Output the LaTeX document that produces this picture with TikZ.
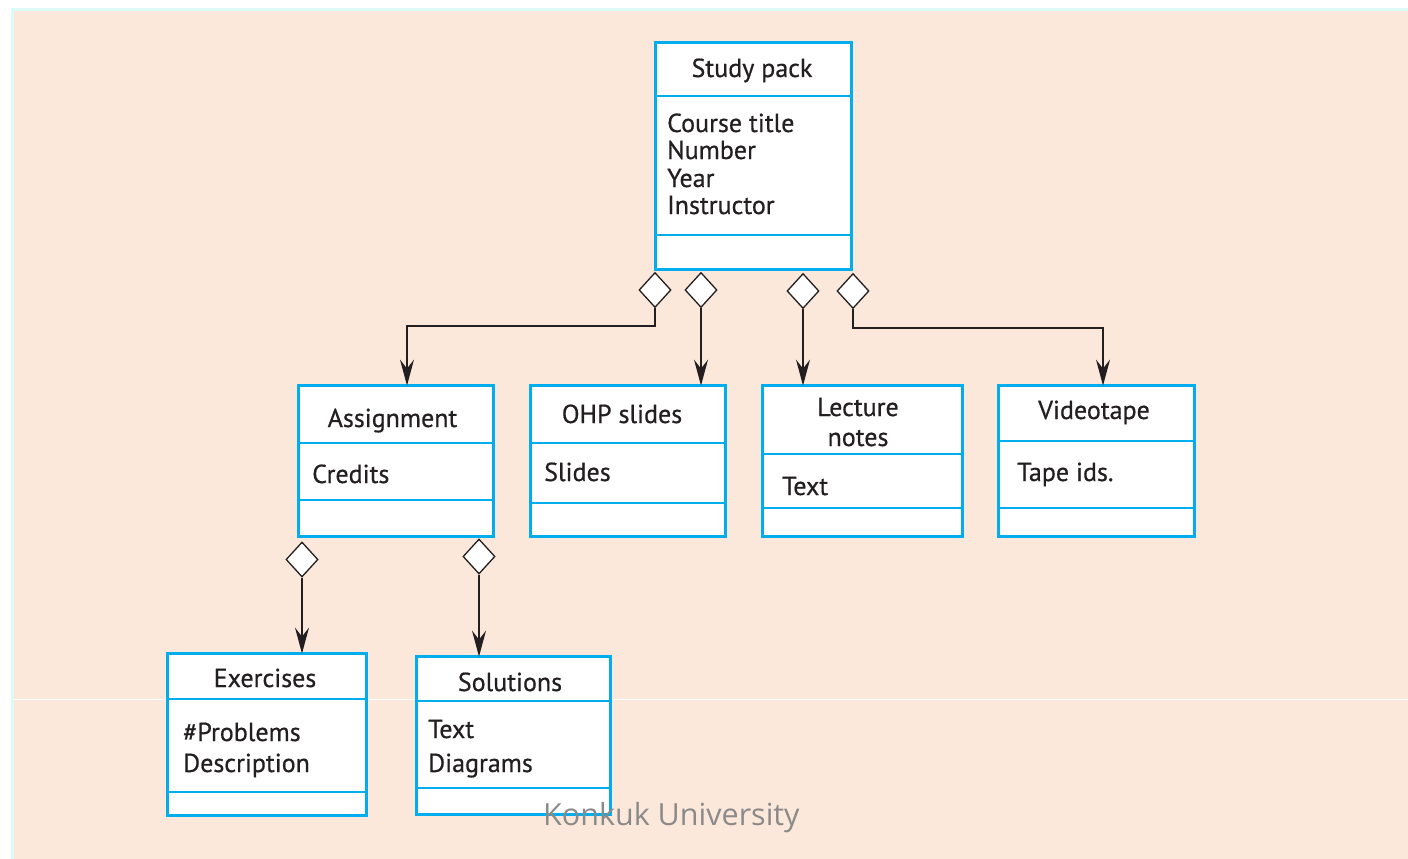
\documentclass[tikz,border=0pt]{standalone}
\usepackage{fontspec}
\setmainfont{PT Sans}[FakeBold=0.6]
\newfontfamily\markfont{Open Sans}
\usetikzlibrary{arrows.meta,shapes.geometric}
\definecolor{umlblue}{HTML}{00AEEF}
\definecolor{ink}{HTML}{231F20}
\definecolor{peach}{HTML}{FCE8DA}
\definecolor{framecyan}{HTML}{DDFAFA}
\definecolor{markgray}{HTML}{8A8A8A}

\begin{document}
\begin{tikzpicture}[x=1pt,y=-1pt,
  clsbox/.style={draw=umlblue,line width=3.2pt,fill=white,inner sep=0pt,outer sep=0pt,anchor=north west},
  sepline/.style={draw=umlblue,line width=1.8pt},
  agg/.style={diamond,draw=ink,fill=white,line width=1.3pt,inner sep=0pt,minimum width=32pt,minimum height=35pt},
  conn/.style={draw=ink,line width=1.6pt,-{Stealth[length=26pt,width=14pt,inset=9pt]}},
  title/.style={anchor=base,text=ink,font=\fontsize{26}{27.4}\selectfont,inner sep=0pt},
  attr/.style={anchor=base west,text=ink,font=\fontsize{26}{27.4}\selectfont,inner sep=0pt}]

% page, frame and background
\useasboundingbox (0,0) rectangle (1408,859);
\fill[white] (0,0) rectangle (1408,859);
\fill[framecyan] (11,8) rectangle (1408,859);
\fill[peach] (13.5,11) rectangle (1408,859);
\draw[white,line width=1pt] (13.5,699) -- (1408,699);

% ---- class boxes ----
\node[clsbox,minimum width=195.8pt,minimum height=226.8pt] (sp) at (655.6,42.6) {};
\draw[sepline] (sp.west |- 0,96) -- (sp.east |- 0,96);
\draw[sepline] (sp.west |- 0,235) -- (sp.east |- 0,235);
\node[title] (spT) at (752,77) {Study pack};
\node[attr] (spA1) at (667,132) {Course title};
\node[attr] (spA2) at (667,159) {Number};
\node[attr] (spA3) at (667,187) {Year};
\node[attr] (spA4) at (667,214) {Instructor};

\node[clsbox,minimum width=194.8pt,minimum height=150.8pt] (asg) at (298.6,385.6) {};
\draw[sepline] (asg.west |- 0,443) -- (asg.east |- 0,443);
\draw[sepline] (asg.west |- 0,500) -- (asg.east |- 0,500);
\node[title] (asgT) at (392.5,427) {Assignment};
\node[attr] (asgA1) at (312,483) {Credits};

\node[clsbox,minimum width=194.8pt,minimum height=150.8pt] (ohp) at (530.6,385.6) {};
\draw[sepline] (ohp.west |- 0,443) -- (ohp.east |- 0,443);
\draw[sepline] (ohp.west |- 0,503) -- (ohp.east |- 0,503);
\node[title] (ohpT) at (622,423) {OHP slides};
\node[attr] (ohpA1) at (544,481) {Slides};

\node[clsbox,minimum width=199.8pt,minimum height=150.8pt] (lec) at (762.6,385.6) {};
\draw[sepline] (lec.west |- 0,454) -- (lec.east |- 0,454);
\draw[sepline] (lec.west |- 0,508) -- (lec.east |- 0,508);
\node[title] (lecT1) at (858,416) {Lecture};
\node[title] (lecT2) at (858,446) {notes};
\node[attr] (lecA1) at (782,495) {Text};

\node[clsbox,minimum width=195.8pt,minimum height=150.8pt] (vid) at (998.6,385.6) {};
\draw[sepline] (vid.west |- 0,441) -- (vid.east |- 0,441);
\draw[sepline] (vid.west |- 0,508) -- (vid.east |- 0,508);
\node[title] (vidT) at (1094,419) {Videotape};
\node[attr] (vidA1) at (1017,481) {Tape ids.};

\node[clsbox,minimum width=198.8pt,minimum height=161.8pt] (exe) at (167.6,653.6) {};
\draw[sepline] (exe.west |- 0,699) -- (exe.east |- 0,699);
\draw[sepline] (exe.west |- 0,792) -- (exe.east |- 0,792);
\node[title] (exeT) at (265,687) {Exercises};
\node[attr] (exeA1) at (183,741) {\#Problems};
\node[attr] (exeA2) at (183,772) {Description};

\node[clsbox,minimum width=193.8pt,minimum height=157.8pt] (sol) at (416.6,656.6) {};
\draw[sepline] (sol.west |- 0,701) -- (sol.east |- 0,701);
\draw[sepline] (sol.west |- 0,788) -- (sol.east |- 0,788);
\node[title] (solT) at (510,691) {Solutions};
\node[attr] (solA1) at (428,738) {Text};
\node[attr] (solA2) at (428,772) {Diagrams};

% ---- aggregation diamonds ----
\node[agg] (d1) at (655,290) {};
\node[agg] (d2) at (701,290) {};
\node[agg] (d3) at (803,291) {};
\node[agg] (d4) at (853,291) {};
\node[agg] (d5) at (302,559.5) {};
\node[agg] (d6) at (479,556.5) {};

% ---- connectors ----
\coordinate (k1) at (655,326);
\coordinate (t1) at (407,0);
\draw[conn] (d1.south) -- (k1) -| (t1 |- asg.north);
\draw[conn] (d2.south) -- (d2.south |- ohp.north);
\draw[conn] (d3.south) -- (d3.south |- lec.north);
\coordinate (k4) at (853,328);
\coordinate (t4) at (1103,0);
\draw[conn] (d4.south) -- (k4) -| (t4 |- vid.north);
\draw[conn] (d5.south) -- (d5.south |- exe.north);
\draw[conn] (d6.south) -- (d6.south |- sol.north);

% ---- watermark ----
\node[anchor=base west,text=markgray,font=\markfont\fontsize{30.5}{32}\selectfont,inner sep=0pt] (wm) at (543,825) {Konkuk University};
\end{tikzpicture}
\end{document}
